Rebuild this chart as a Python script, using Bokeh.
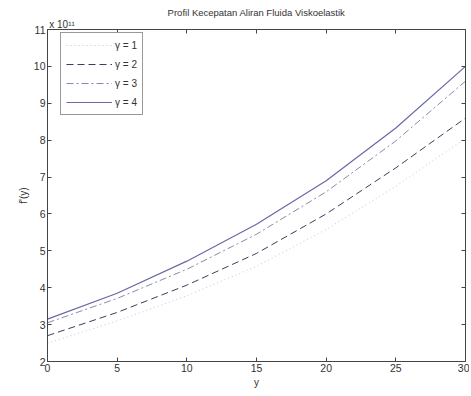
from bokeh.plotting import figure
from bokeh.models import Range1d, LinearAxis, Legend, LegendItem, FixedTicker
from bokeh.embed import file_html
from bokeh.resources import INLINE

# data (values in units of 1e11)
x_vals = [0, 5, 10, 15, 20, 25, 30]
gamma1 = [2.50, 3.10, 3.78, 4.58, 5.58, 6.75, 8.05]
gamma2 = [2.70, 3.33, 4.07, 4.93, 6.00, 7.25, 8.60]
gamma3 = [3.05, 3.71, 4.50, 5.45, 6.60, 7.98, 9.60]
gamma4 = [3.15, 3.85, 4.72, 5.72, 6.90, 8.33, 10.00]
series_labels = ["γ = 1", "γ = 2", "γ = 3", "γ = 4"]
x_ticks = [0, 5, 10, 15, 20, 25, 30]
y_ticks = [2, 3, 4, 5, 6, 7, 8, 9, 10, 11]
multiplier = "x 10¹¹"

FONT = "Liberation Sans"

p = figure(width=469, height=390, output_backend="svg", toolbar_location=None,
           x_range=Range1d(0, 30), y_range=Range1d(2, 11),
           min_border_left=47, min_border_right=4, min_border_top=29, min_border_bottom=28)

p.title.text = "Profil Kecepatan Aliran Fluida Viskoelastik"
p.title.align = "center"
p.title.text_font = FONT
p.title.text_font_size = "9.5px"
p.title.text_font_style = "normal"
p.title.text_color = "#333333"
p.title.standoff = -4

p.grid.visible = False
p.outline_line_color = "#444444"
p.outline_line_width = 1

for ax in p.xaxis + p.yaxis:
    ax.major_tick_in = 4
    ax.major_tick_out = 0
    ax.minor_tick_in = 0
    ax.minor_tick_out = 0
    ax.axis_line_color = "#444444"
    ax.major_tick_line_color = "#444444"
    ax.major_label_text_font = FONT
    ax.major_label_text_font_size = "10.5px"
    ax.major_label_text_color = "#333333"
    ax.axis_label_text_font = FONT
    ax.axis_label_text_font_size = "10px"
    ax.axis_label_text_font_style = "normal"
    ax.axis_label_text_color = "#333333"
    ax.major_label_standoff = 2
    ax.axis_label_standoff = 2

p.xaxis.ticker = FixedTicker(ticks=x_ticks)
p.yaxis.ticker = FixedTicker(ticks=y_ticks)
p.xaxis.axis_label = "y"
p.yaxis.axis_label = "f'(y)"

pad = "\u00a0" * 140
top = LinearAxis(ticker=FixedTicker(ticks=x_ticks),
                 major_label_overrides={t: "" for t in x_ticks},
                 major_tick_in=4, major_tick_out=0, minor_tick_in=0, minor_tick_out=0,
                 axis_line_color="#444444", major_tick_line_color="#444444",
                 axis_label=multiplier + pad, axis_label_text_font=FONT,
                 axis_label_text_font_size="10px", axis_label_text_font_style="normal",
                 axis_label_text_color="#333333", axis_label_standoff=0,
                 major_label_standoff=0)
right = LinearAxis(ticker=FixedTicker(ticks=y_ticks),
                   major_label_overrides={t: "" for t in y_ticks},
                   major_tick_in=4, major_tick_out=0, minor_tick_in=0, minor_tick_out=0,
                   axis_line_color="#444444", major_tick_line_color="#444444")
p.add_layout(top, "above")
p.add_layout(right, "right")

r1 = p.line(x_vals, gamma1, line_color="#c4c4d4", line_width=1, line_dash="1 3")
r2 = p.line(x_vals, gamma2, line_color="#3c3c5c", line_width=1, line_dash="7 4")
r3 = p.line(x_vals, gamma3, line_color="#8888aa", line_width=1, line_dash="7 3 2 3")
r4 = p.line(x_vals, gamma4, line_color="#6868a8", line_width=1.2)

legend = Legend(items=[LegendItem(label=series_labels[i], renderers=[r])
                       for i, r in enumerate([r1, r2, r3, r4])],
                location="top_left", margin=0, padding=5, spacing=5,
                glyph_width=46, glyph_height=14, label_height=14,
                label_text_font=FONT, label_text_font_size="10px", label_text_color="#333333",
                border_line_color="#333333", border_line_width=1, label_standoff=3)
legend.location = (13, 246)
p.add_layout(legend, "center")

open("out.html", "w").write(file_html(p, INLINE))
